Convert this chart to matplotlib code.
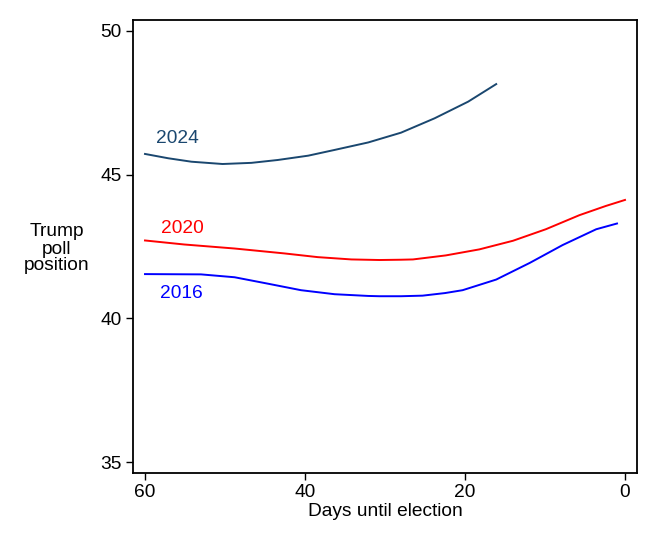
import matplotlib
matplotlib.use("Agg")
import matplotlib.pyplot as plt

plt.rcParams['font.family'] = ['Liberation Sans', 'DejaVu Sans']

# Days until election and Trump poll position
days_2024 = [60, 57.1, 54.2, 50.3, 46.7, 43.4, 39.6, 36.3, 32.1, 28.0, 23.8, 19.6, 16.1]
vals_2024 = [45.72, 45.57, 45.45, 45.37, 45.41, 45.51, 45.66, 45.86, 46.12, 46.46, 46.96, 47.54, 48.15]

days_2020 = [60, 55.1, 48.8, 42.6, 38.4, 34.2, 30.7, 28.0, 26.5, 22.4, 18.2, 14.0, 9.9, 5.7, 2.4, 0]
vals_2020 = [42.71, 42.57, 42.43, 42.26, 42.13, 42.05, 42.03, 42.04, 42.05, 42.19, 42.40, 42.70, 43.10, 43.59, 43.91, 44.12]

days_2016 = [60, 53.0, 48.8, 44.7, 40.5, 36.3, 32.1, 30.7, 28.0, 25.3, 22.5, 20.3, 16.1, 11.9, 7.8, 3.6, 1.0]
vals_2016 = [41.54, 41.53, 41.43, 41.21, 40.98, 40.84, 40.78, 40.77, 40.77, 40.79, 40.88, 40.98, 41.35, 41.93, 42.55, 43.10, 43.30]

series_labels = ["2024", "2020", "2016"]
label_pos = [(55.9, 46.26), (55.3, 43.13), (55.5, 40.87)]
colors = ["#1a476f", "#ff0000", "#0000ff"]

x_ticks = [60, 40, 20, 0]
y_ticks = [35, 40, 45, 50]

fig = plt.figure(figsize=(6.57, 5.48), dpi=100)
ax = fig.add_axes([133/657, 1-473/548, (637-133)/657, (473-20)/548])

for d, v, c in zip([days_2024, days_2020, days_2016], [vals_2024, vals_2020, vals_2016], colors):
    ax.plot(d, v, color=c, lw=1.4, solid_joinstyle='round')

for lab, (lx, ly), c in zip(series_labels, label_pos, colors):
    ax.text(lx, ly, lab, color=c, fontsize=13.8, ha='center', va='center')

ax.set_xlim(61.5, -1.5)
ax.set_ylim(34.62, 50.38)
ax.set_xticks(x_ticks)
ax.set_yticks(y_ticks)
ax.tick_params(labelsize=13.8, length=5, width=1, direction='out', pad=3)
for s in ax.spines.values():
    s.set_linewidth(1.3)

ax.set_xlabel("Days until election", fontsize=13.8, labelpad=1)
fig.text(57/657, 1-249/548, "Trump\npoll\nposition", fontsize=13.8, ha='center', va='center', linespacing=1.0)

fig.savefig("out.png", dpi=100)
